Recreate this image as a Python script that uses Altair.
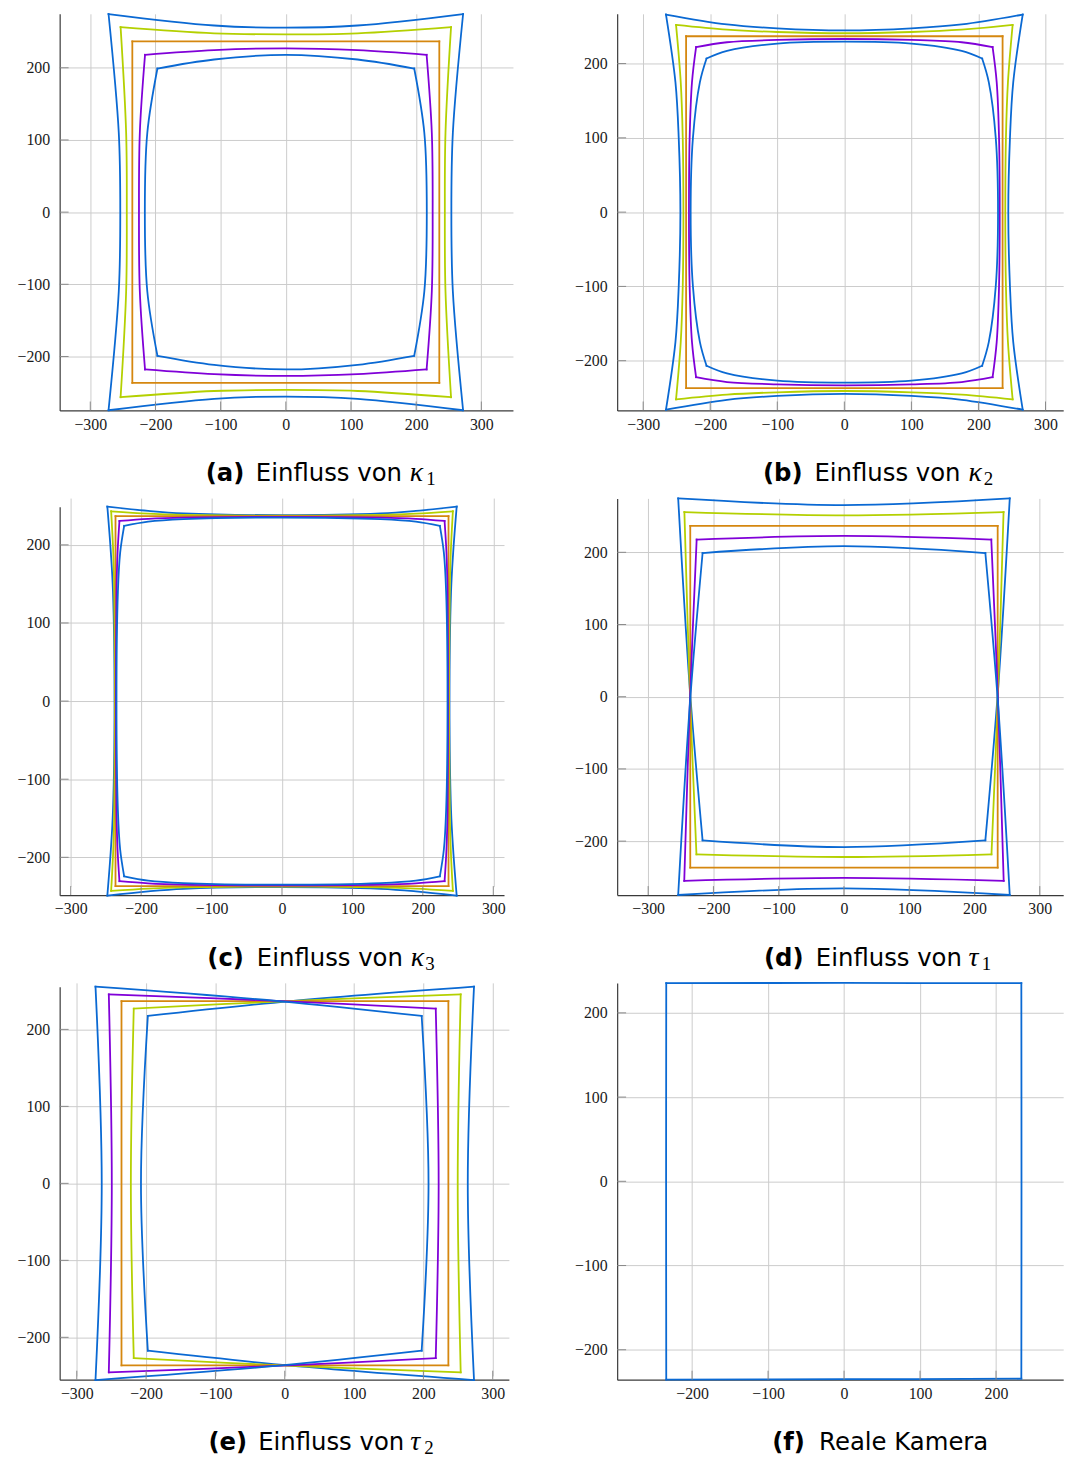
import altair as alt
import pandas as pd

# ---------------------------------------------------------------- data
CURVES = ["c1", "c2", "c3", "c4", "c5"]
CURVE_COLORS = ["#0a69d3", "#b4d000", "#d5870f", "#8000d8", "#0a69d3"]

X_TICKS = [-300, -200, -100, 0, 100, 200, 300]
X_TICKS_F = [-200, -100, 0, 100, 200]
Y_TICKS = [-200, -100, 0, 100, 200]

# Each outline: points going round TL -> top -> TR -> right -> BR -> bottom -> BL -> left

# (a) kappa1
A1_X = [-272, -110, 0, 110, 272, 256.3, 254, 256.3, 272, 110, 0, -110, -272, -256.3, -254, -256.3]
A1_Y = [274.5, 258.6, 255.5, 258.6, 274.5, 110, 0, -110, -274.5, -258.6, -255.5, -258.6, -274.5, -110, 0, 110]
A2_X = [-253.5, -110, 0, 110, 253.5, 245, 244, 245, 253.5, 110, 0, -110, -253.5, -245, -244, -245]
A2_Y = [256.4, 247.8, 246.3, 247.8, 256.4, 110, 0, -110, -256.4, -247.8, -246.3, -247.8, -256.4, -110, 0, 110]
A3_X = [-235.5, -110, 0, 110, 235.5, 235.5, 235.5, 235.5, 235.5, 110, 0, -110, -235.5, -235.5, -235.5, -235.5]
A3_Y = [236.5, 236.5, 236.5, 236.5, 236.5, 110, 0, -110, -236.5, -236.5, -236.5, -236.5, -236.5, -110, 0, 110]
A4_X = [-216, -110, 0, 110, 216, 224, 225.3, 224, 216, 110, 0, -110, -216, -224, -225.3, -224]
A4_Y = [218, 224.5, 227, 224.5, 218, 110, 0, -110, -218, -224.5, -227, -224.5, -218, -110, 0, 110]
A5_X = [-197, -110, 0, 110, 197, 212.5, 216.3, 212.5, 197, 110, 0, -110, -197, -212.5, -216.3, -212.5]
A5_Y = [199, 211.5, 218, 211.5, 199, 110, 0, -110, -199, -211.5, -218, -211.5, -199, -110, 0, 110]

# (b) kappa2
B1_X = [-266, -175, -100, 0, 100, 175, 266, 251.9, 247, 244.5, 247, 251.9, 266, 175, 100, 0, -100, -175, -266, -251.9, -247, -244.5, -247, -251.9]
B1_Y = [266, 252.7, 247.4, 244.7, 247.4, 252.7, 266, 175, 100, 0, -100, -175, -266, -252.7, -247.4, -244.7, -247.4, -252.7, -266, -175, -100, 0, 100, 175]
B2_X = [-251, -175, -100, 0, 100, 175, 251, 244, 241, 240, 241, 244, 251, 175, 100, 0, -100, -175, -251, -244, -241, -240, -241, -244]
B2_Y = [252, 245.6, 242.5, 240.8, 242.5, 245.6, 252, 175, 100, 0, -100, -175, -252, -245.6, -242.5, -240.8, -242.5, -245.6, -252, -175, -100, 0, 100, 175]
B3_X = [-236, -175, -100, 0, 100, 175, 236, 236, 236, 236, 236, 236, 236, 175, 100, 0, -100, -175, -236, -236, -236, -236, -236, -236]
B3_Y = [236.8, 236.8, 236.8, 236.8, 236.8, 236.8, 236.8, 175, 100, 0, -100, -175, -236.8, -236.8, -236.8, -236.8, -236.8, -236.8, -236.8, -175, -100, 0, 100, 175]
B4_X = [-221.1, -175, -100, 0, 100, 175, 221.1, 227.2, 230.7, 231.7, 230.7, 227.2, 221.1, 175, 100, 0, -100, -175, -221.1, -227.2, -230.7, -231.7, -230.7, -227.2]
B4_Y = [222.2, 228.7, 231.8, 233.1, 231.8, 228.7, 222.2, 175, 100, 0, -100, -175, -222.2, -228.7, -231.8, -233.1, -231.8, -228.7, -222.2, -175, -100, 0, 100, 175]
B5_X = [-205.5, -175, -100, 0, 100, 175, 205.5, 215.4, 225.8, 229.2, 225.8, 215.4, 205.5, 175, 100, 0, -100, -175, -205.5, -215.4, -225.8, -229.2, -225.8, -215.4]
B5_Y = [206.8, 217.1, 226.9, 229.5, 226.9, 217.1, 206.8, 175, 100, 0, -100, -175, -206.8, -217.1, -226.9, -229.5, -226.9, -217.1, -206.8, -175, -100, 0, 100, 175]

# (c) kappa3
C1_X = [-248, -190, -140, 0, 140, 190, 248, 243, 240, 237.8, 240, 243, 248, 190, 140, 0, -140, -190, -248, -243, -240, -237.8, -240, -243]
C1_Y = [249, 243.5, 240.3, 238.1, 240.3, 243.5, 249, 190, 140, 0, -140, -190, -249, -243.5, -240.3, -238.1, -240.3, -243.5, -249, -190, -140, 0, 140, 190]
C2_X = [-242.6, -190, -140, 0, 140, 190, 242.6, 239.6, 238.2, 237.2, 238.2, 239.6, 242.6, 190, 140, 0, -140, -190, -242.6, -239.6, -238.2, -237.2, -238.2, -239.6]
C2_Y = [243, 240, 238.5, 237.4, 238.5, 240, 243, 190, 140, 0, -140, -190, -243, -240, -238.5, -237.4, -238.5, -240, -243, -190, -140, 0, 140, 190]
C3_X = [-236.4, -190, -140, 0, 140, 190, 236.4, 236.4, 236.4, 236.4, 236.4, 236.4, 236.4, 190, 140, 0, -140, -190, -236.4, -236.4, -236.4, -236.4, -236.4, -236.4]
C3_Y = [236.8, 236.8, 236.8, 236.8, 236.8, 236.8, 236.8, 190, 140, 0, -140, -190, -236.8, -236.8, -236.8, -236.8, -236.8, -236.8, -236.8, -190, -140, 0, 140, 190]
C4_X = [-230.8, -190, -140, 0, 140, 190, 230.8, 233.5, 235, 235.8, 235, 233.5, 230.8, 190, 140, 0, -140, -190, -230.8, -233.5, -235, -235.8, -235, -233.5]
C4_Y = [230.6, 233.3, 234.9, 235.8, 234.9, 233.3, 230.6, 190, 140, 0, -140, -190, -230.6, -233.3, -234.9, -235.8, -234.9, -233.3, -230.6, -190, -140, 0, 140, 190]
C5_X = [-224.1, -190, -140, 0, 140, 190, 224.1, 229.8, 233, 235, 233, 229.8, 224.1, 190, 140, 0, -140, -190, -224.1, -229.8, -233, -235, -233, -229.8]
C5_Y = [224.3, 229.8, 233, 235, 233, 229.8, 224.3, 190, 140, 0, -140, -190, -224.3, -229.8, -233, -235, -233, -229.8, -224.3, -190, -140, 0, 140, 190]

# (d) tau1
D1_X = [-254, 0, 254, 236, 216.6, 0, -216.6, -236]
D1_Y = [274.6, 265.4, 274.6, 9, -199, -208.3, -199, 9]
D2_X = [-244.5, 0, 244.5, 236, 226, 0, -226, -236]
D2_Y = [255.8, 251.2, 255.8, 4.5, -218.3, -222, -218.3, 4.5]
D3_X = [-235.5, 0, 235.5, 235.5, 235.5, 0, -235.5, -235.5]
D3_Y = [236.7, 236.7, 236.7, 0, -236.7, -236.7, -236.7, 0]
D4_X = [-225.7, 0, 225.7, 236, 244.7, 0, -244.7, -236]
D4_Y = [217.7, 222.7, 217.7, -4.5, -255, -251, -255, -4.5]
D5_X = [-216.6, 0, 216.6, 236, 254, 0, -254, -236]
D5_Y = [199, 208.5, 199, -9, -274.6, -265.4, -274.6, -9]

# (e) tau2
E1_X = [-197.5, 9, 273, 264, 273, 9, -197.5, -207.4]
E1_Y = [217.4, 236.8, 255.5, 0, -255.5, -236.8, -217.4, 0]
E2_X = [-217.8, 4.6, 253.8, 249.5, 253.8, 4.6, -217.8, -222]
E2_Y = [227, 236.8, 245.5, 0, -245.5, -236.8, -227, 0]
E3_X = [-235.5, 0, 236, 236, 236, 0, -235.5, -235.5]
E3_Y = [236.8, 236.8, 236.8, 0, -236.3, -236.3, -236.3, 0]
E4_X = [-253.8, -4.6, 217.8, 222, 217.8, -4.6, -253.8, -249.5]
E4_Y = [245.5, 236.8, 227, 0, -227, -236.8, -245.5, 0]
E5_X = [-273, -9, 197.5, 207.4, 197.5, -9, -273, -264]
E5_Y = [255.5, 236.8, 217.4, 0, -217.4, -236.8, -255.5, 0]

# (f) real camera
F1_X = [-234, 0, 233.3, 233.5, 233.3, 0, -234, -234.2]
F1_Y = [235.4, 235.5, 235.2, 0, -234.4, -235, -235.4, 0]

CAPTION_A = ["(a)", "Einfluss von", "κ", "1"]
CAPTION_B = ["(b)", "Einfluss von", "κ", "2"]
CAPTION_C = ["(c)", "Einfluss von", "κ", "3"]
CAPTION_D = ["(d)", "Einfluss von", "τ", "1"]
CAPTION_E = ["(e)", "Einfluss von", "τ", "2"]
CAPTION_F = ["(f)", "Reale Kamera"]

# ---------------------------------------------------------------- helpers
GH = 399.3  # height of every cell
CAP_Y = 470.5

CAP_STYLES = [
    dict(font="DejaVu Sans", fontSize=24.5, fontWeight="bold", dy=0),
    dict(font="DejaVu Sans", fontSize=24.5, fontWeight="normal", dy=0),
    dict(font="Liberation Serif", fontSize=28, fontStyle="italic", dy=0),
    dict(font="Liberation Serif", fontSize=19, fontWeight="normal", dy=4),
]


def ring_frame(rings, n):
    rows = []
    for ci, (xs, ys) in enumerate(rings):
        m = len(xs)
        for e in range(4):
            for j in range(n + 1):
                k = (e * n + j) % m
                rows.append({"curve": CURVES[ci], "edge": f"{ci}-{e}", "o": j,
                             "x": xs[k], "y": ys[k]})
    return pd.DataFrame(rows)


def panel(rings, n, xdom, ydom, width, yrange, xticks, caption, cap_x):
    df = ring_frame(rings, n)
    xsc = alt.Scale(domain=xdom, nice=False, zero=False)
    ysc = alt.Scale(domain=ydom, nice=False, zero=False, range=yrange)
    xax = alt.Axis(values=xticks, title=None, grid=True, ticks=False, tickSize=0,
                   labelPadding=6, labelFlush=False)
    yax = alt.Axis(values=Y_TICKS, title=None, grid=True, ticks=False, tickSize=0,
                   labelPadding=10, labelFlush=False)

    lines = alt.Chart(df).mark_line(
        interpolate="catmull-rom", strokeWidth=1.8, strokeCap="square"
    ).encode(
        x=alt.X("x:Q", scale=xsc, axis=xax),
        y=alt.Y("y:Q", scale=ysc, axis=yax),
        color=alt.Color("curve:N", scale=alt.Scale(domain=CURVES, range=CURVE_COLORS), legend=None),
        detail=alt.Detail("edge:N"),
        order=alt.Order("o:Q"),
    )
    xt = alt.Chart(pd.DataFrame({"x": xticks})).mark_rule(color="#8a8a8a", strokeWidth=1).encode(
        x=alt.X("x:Q", scale=xsc, axis=xax),
        y=alt.value(GH), y2=alt.value(GH - 9),
    )
    yt = alt.Chart(pd.DataFrame({"y": Y_TICKS})).mark_rule(color="#8a8a8a", strokeWidth=1).encode(
        y=alt.Y("y:Q", scale=ysc, axis=yax),
        x=alt.value(0), x2=alt.value(9),
    )
    layers = [lines, xt, yt]
    for text, xo, st in zip(caption, cap_x, CAP_STYLES):
        st = dict(st)
        dy = st.pop("dy")
        layers.append(
            alt.Chart(pd.DataFrame({"t": [text]})).mark_text(
                align="left", baseline="alphabetic", color="#000000", **st
            ).encode(x=alt.value(xo), y=alt.value(CAP_Y + dy), text="t:N")
        )
    return alt.layer(*layers).properties(width=width, height=GH)


pa = panel([(A1_X, A1_Y), (A2_X, A2_Y), (A3_X, A3_Y), (A4_X, A4_Y), (A5_X, A5_Y)], 4,
           [-347, 348.5], [-274.8, 274.8], 456.3, [GH, 0], X_TICKS, CAPTION_A,
           [147, 197.5, 352.5, 369])
pb = panel([(B1_X, B1_Y), (B2_X, B2_Y), (B3_X, B3_Y), (B4_X, B4_Y), (B5_X, B5_Y)], 6,
           [-338.8, 326.4], [-267, 267], 449, [GH, 0], X_TICKS, CAPTION_B,
           [146.7, 198.6, 353.6, 369])
pc = panel([(C1_X, C1_Y), (C2_X, C2_Y), (C3_X, C3_Y), (C4_X, C4_Y), (C5_X, C5_Y)], 6,
           [-315.7, 315.2], [-248.7, 248.7], 447.3, [399.6, 8.5], X_TICKS, CAPTION_C,
           [148.6, 198.5, 353.5, 368])
pd_ = panel([(D1_X, D1_Y), (D2_X, D2_Y), (D3_X, D3_Y), (D4_X, D4_Y), (D5_X, D5_Y)], 2,
            [-347.5, 335.9], [-274.7, 274.7], 449, [GH, 0], X_TICKS, CAPTION_D,
            [147.7, 200, 353.6, 367])
pe = panel([(E1_X, E1_Y), (E2_X, E2_Y), (E3_X, E3_Y), (E4_X, E4_Y), (E5_X, E5_Y)], 2,
           [-324.7, 323.3], [-255.1, 255.5], 452.2, [399.4, 3.7], X_TICKS, CAPTION_E,
           [149.8, 199.8, 353, 367])
pf = panel([(F1_X, F1_Y)], 2,
           [-298.6, 288.4], [-235.5, 235.5], 449, [GH, 0], X_TICKS_F, CAPTION_F,
           [156, 203.3])

chart = alt.concat(
    pa, pb, pc, pd_, pe, pf, columns=2,
    spacing={"row": 87.8, "column": 104.2}, bounds="flush",
).properties(
    padding={"left": 8, "top": -3, "right": 0, "bottom": 4}
).configure_view(
    stroke=None
).configure_axis(
    labelFont="Liberation Serif", labelFontSize=16, labelColor="#1a1a1a",
    domainColor="#3a3a3a", domainWidth=1.2, gridColor="#cccccc", gridWidth=1,
)

chart.save("out.html", embed_options={"renderer": "svg", "actions": False})
